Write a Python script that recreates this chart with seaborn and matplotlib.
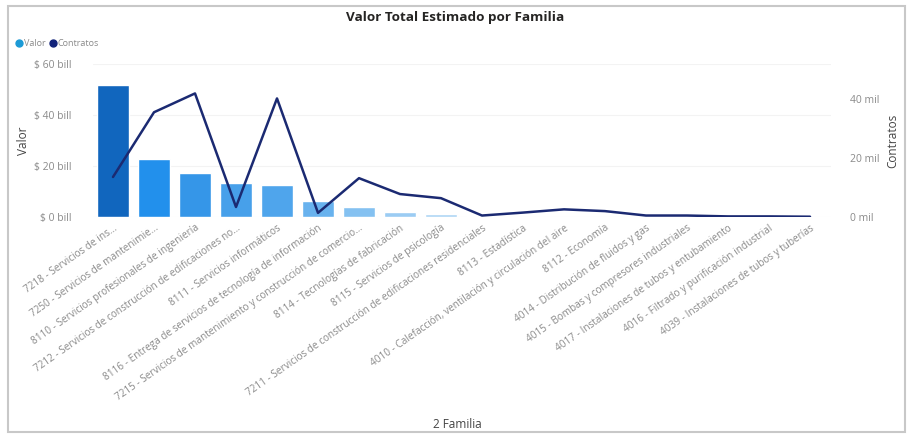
import matplotlib
matplotlib.use("Agg")
import matplotlib.pyplot as plt
from matplotlib.lines import Line2D
from matplotlib.patches import Rectangle
from matplotlib.ticker import FuncFormatter
import numpy as np
import pandas as pd
import seaborn as sns

familias = [
    "7218 - Servicios de ins...",
    "7250 - Servicios de mantenimie...",
    "8110 - Servicios profesionales de ingeniería",
    "7212 - Servicios de construcción de edificaciones no...",
    "8111 - Servicios informáticos",
    "8116 - Entrega de servicios de tecnología de información",
    "7215 - Servicios de mantenimiento y construcción de comercio...",
    "8114 - Tecnologías de fabricación",
    "8115 - Servicios de psicología",
    "7211 - Servicios de construcción de edificaciones residenciales",
    "8113 - Estadística",
    "4010 - Calefacción, ventilación y circulación del aire",
    "8112 - Economía",
    "4014 - Distribución de fluidos y gas",
    "4015 - Bombas y compresores industriales",
    "4017 - Instalaciones de tubos y entubamiento",
    "4016 - Filtrado y purificación industrial",
    "4039 - Instalaciones de tubos y tuberías",
]
# Valor en billones de pesos
valor = [51.8, 22.7, 17.3, 13.3, 12.5, 6.3, 4.0, 2.0, 1.2, 0.4,
         0.15, 0.12, 0.1, 0.08, 0.06, 0.05, 0.04, 0.03]
# Contratos en miles
contratos = [13.6, 35.6, 42.0, 3.4, 40.3, 1.4, 13.2, 7.8, 6.4, 0.5,
             1.5, 2.6, 2.0, 0.5, 0.5, 0.2, 0.2, 0.1]
colores_barras = ["#1166BE", "#2290EC", "#3596E8", "#47A0EA", "#4FA5EC", "#68B2EE",
                  "#84C1F1", "#9BCCF3", "#ADD5F4", "#BBDCF5", "#C6E1F6", "#CBE4F7",
                  "#CEE6F7", "#D1E7F7", "#D3E8F8", "#D5E9F8", "#D7EAF8", "#D9EBF8"]

df = pd.DataFrame({"Familia": familias, "Valor": valor, "Contratos": contratos})
df["pos"] = np.arange(len(df))

sns.set_theme(style="white")
plt.rcParams["font.family"] = ["Open Sans", "DejaVu Sans"]

fig = plt.figure(figsize=(9.11, 4.38), dpi=100)
ax = fig.add_axes([92.5 / 911, 1 - 217 / 438, 738 / 911, 153 / 438])

sns.barplot(data=df, x="Familia", y="Valor", hue="Familia", palette=colores_barras,
            legend=False, width=0.78, saturation=1, ax=ax)
ax.set_ylim(0, 60)
ax.set_yticks([0, 20, 40, 60])
ax.yaxis.set_major_formatter(FuncFormatter(lambda v, p: f"$ {v:.0f} bill"))
ax.grid(axis="y", color="#F3F3F3", linewidth=0.8)
ax.set_axisbelow(True)
ax.set_xlim(-0.5, len(df) - 0.5)

ax2 = ax.twinx()
sns.lineplot(data=df, x="pos", y="Contratos", color="#1B2A72", linewidth=1.8, ax=ax2)
ax2.set_ylim(0, 52)
ax2.set_yticks([0, 20, 40])
ax2.yaxis.set_major_formatter(FuncFormatter(lambda v, p: f"{v:.0f} mil"))

for a in (ax, ax2):
    for s in a.spines.values():
        s.set_visible(False)
    a.tick_params(length=0, labelsize=7.5, colors="#8A8A8A")

ax.tick_params(axis="y", pad=15)
ax2.tick_params(axis="y", pad=14)
ax.set_xticks(df["pos"])
ax.set_xticklabels(familias, rotation=35, ha="right", rotation_mode="anchor", fontsize=7.2)
ax.tick_params(axis="x", pad=4)

ax.set_xlabel("")
ax.set_ylabel("Valor", fontsize=8.5, color="#444444")
ax2.set_ylabel("Contratos", fontsize=8.5, color="#444444")
ax.yaxis.set_label_coords(-0.085, 0.5)
ax2.yaxis.set_label_coords(1 + 56 / 738, 0.5)

fig.text(0.5, 1 - 17 / 438, "Valor Total Estimado por Familia", ha="center", va="center",
         fontsize=9.7, fontweight="bold", color="#252423")
fig.text(457 / 911, 1 - 425 / 438, "2 Familia", ha="center", va="center",
         fontsize=8.5, color="#444444")

handles = [
    Line2D([], [], marker="o", linestyle="", color="#1C9AD6", markersize=5),
    Line2D([], [], marker="o", linestyle="", color="#12237A", markersize=5),
]
fig.legend(handles, ["Valor", "Contratos"], loc="center left",
           bbox_to_anchor=(10 / 911, 1 - 44 / 438), ncol=2, frameon=False,
           fontsize=6.5, labelcolor="#8A8A8A", handletextpad=0.0, columnspacing=0.4,
           handlelength=1.0, borderpad=0)

fig.patches.append(Rectangle((8 / 911, 6 / 438), 897 / 911, 426 / 438, fill=False,
                             edgecolor="#C8C8C8", linewidth=1.5, transform=fig.transFigure))

fig.savefig("out.png", dpi=100)
plt.close(fig)
